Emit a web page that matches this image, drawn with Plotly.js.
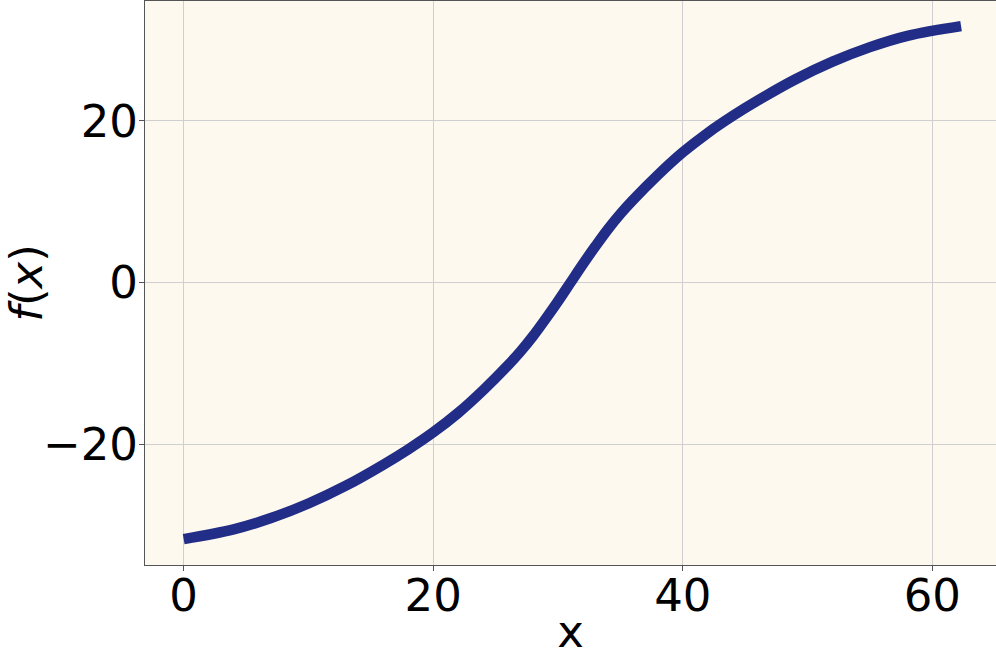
<!DOCTYPE html>
<html>
<head>
<meta charset="utf-8">
<script src="https://cdn.plot.ly/plotly-3.0.1.min.js"></script>
<style>html,body{margin:0;padding:0;background:#fff;}#chart{width:996px;height:658px;}</style>
</head>
<body>
<div id="chart"></div>
<script>
const xValues = [0, 4, 7, 10, 13, 16, 18, 20, 22, 24, 26, 27, 28, 29, 30, 31, 32, 33, 34, 35, 36, 38, 40, 42, 44, 46, 49, 52, 55, 58, 62.3];
const fValues = [-31.7, -30.5, -29.1, -27.3, -25.1, -22.5, -20.6, -18.5, -16.1, -13.3, -10.2, -8.5, -6.6, -4.5, -2.3, 0, 2.3, 4.5, 6.6, 8.5, 10.2, 13.3, 16.1, 18.5, 20.6, 22.5, 25.1, 27.3, 29.1, 30.5, 31.7];
const xTicks = [0, 20, 40, 60];
const yTicks = [-20, 0, 20];
const yTickLabels = ['\u221220', '0', '20'];

const trace = {
  x: xValues, y: fValues, type: 'scatter', mode: 'lines',
  line: {color: '#212d86', width: 10.5, shape: 'spline', smoothing: 1},
  hoverinfo: 'none'
};
const font = {family: 'DejaVu Sans', size: 45, color: '#000'};
const layout = {
  width: 996, height: 658,
  margin: {l: 145, r: 0, t: 1, b: 93},
  paper_bgcolor: '#ffffff', plot_bgcolor: '#fdf9ee',
  showlegend: false,
  font: font,
  xaxis: {
    range: [-3.1, 65.1], tickvals: xTicks, ticktext: xTicks.map(String),
    showgrid: true, gridcolor: '#cfcfcf', gridwidth: 1,
    zeroline: false, showline: true, linecolor: '#555', linewidth: 1, mirror: true,
    ticks: 'outside', ticklen: 5, tickcolor: '#555', tickfont: font, ticklabelstandoff: -14,
    title: {text: 'x', font: font, standoff: 0}, automargin: false
  },
  yaxis: {
    range: [-34.9, 34.8], tickvals: yTicks, ticktext: yTickLabels,
    showgrid: true, gridcolor: '#cfcfcf', gridwidth: 1,
    zeroline: false, showline: true, linecolor: '#555', linewidth: 1, mirror: true,
    ticks: 'outside', ticklen: 5, tickcolor: '#555', tickfont: font, ticklabelstandoff: -8,
    title: {text: '<i>f</i>(<i>x</i>)', font: font, standoff: 10}, automargin: false
  }
};
Plotly.newPlot('chart', [trace], layout, {staticPlot: true, displayModeBar: false});
</script>
</body>
</html>
